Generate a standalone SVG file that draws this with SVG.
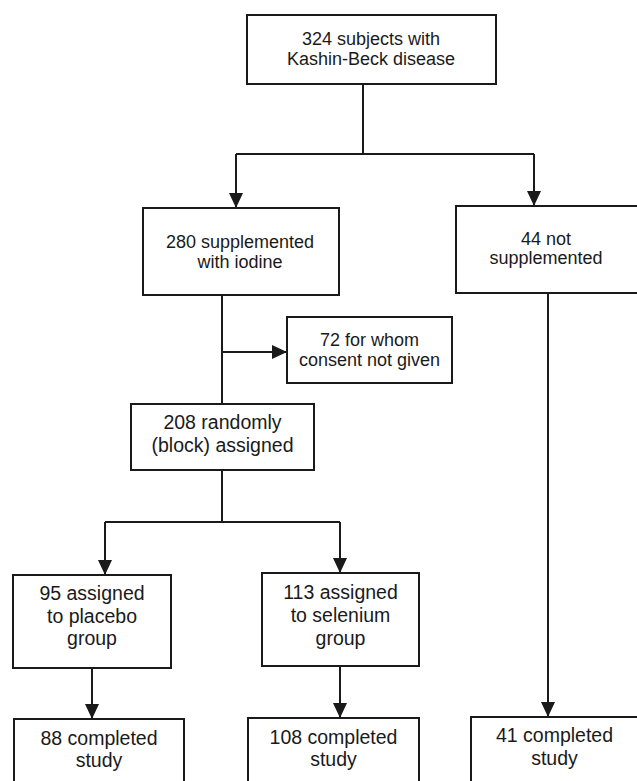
<svg xmlns="http://www.w3.org/2000/svg" width="637" height="781" viewBox="0 0 637 781">
<style>
.box{fill:#fff;stroke:#1a1a1a;stroke-width:2}
.ln{fill:none;stroke:#1a1a1a;stroke-width:2}
.t{font-family:"Liberation Sans",Arial,sans-serif;fill:#1a1a1a;text-anchor:middle}
.s{font-size:18px}
.b{font-size:19.5px}
</style>
<defs>
<marker id="ah" markerUnits="userSpaceOnUse" markerWidth="15" markerHeight="14" refX="15" refY="7" orient="auto">
<path d="M0,0 L15,7 L0,14 Z" fill="#1a1a1a"/>
</marker>
</defs>
<rect width="637" height="781" fill="#fff"/>
<g id="connectors">
<path class="ln" d="M363,84 V154"/>
<path class="ln" d="M236,154 H534"/>
<path class="ln" d="M236,154 V208" marker-end="url(#ah)"/>
<path class="ln" d="M534,154 V206" marker-end="url(#ah)"/>
<path class="ln" d="M222,295 V404"/>
<path class="ln" d="M222,352 H287" marker-end="url(#ah)"/>
<path class="ln" d="M222,470 V522"/>
<path class="ln" d="M105,522 H340"/>
<path class="ln" d="M105,522 V575" marker-end="url(#ah)"/>
<path class="ln" d="M340,522 V573" marker-end="url(#ah)"/>
<path class="ln" d="M92,668 V719" marker-end="url(#ah)"/>
<path class="ln" d="M340,666 V718" marker-end="url(#ah)"/>
<path class="ln" d="M548,293 V717" marker-end="url(#ah)"/>
</g>
<g id="n324">
<rect class="box" x="247" y="15" width="249" height="69"/>
<text class="t s" x="371" y="45">324 subjects with</text>
<text class="t s" x="371" y="65">Kashin-Beck disease</text>
</g>
<g id="n280">
<rect class="box" x="143" y="208" width="196" height="87"/>
<text class="t s" x="240" y="248">280 supplemented</text>
<text class="t s" x="240" y="268">with iodine</text>
</g>
<g id="n44">
<rect class="box" x="456" y="206" width="190" height="87"/>
<text class="t s" x="546" y="245">44 not</text>
<text class="t s" x="546" y="264">supplemented</text>
</g>
<g id="n72">
<rect class="box" x="287" y="317" width="165" height="66"/>
<text class="t s" x="369.5" y="346">72 for whom</text>
<text class="t s" x="369.5" y="366">consent not given</text>
</g>
<g id="n208">
<rect class="box" x="131" y="404" width="183" height="66"/>
<text class="t b" x="222.5" y="429">208 randomly</text>
<text class="t b" x="222.5" y="452">(block) assigned</text>
</g>
<g id="n95">
<rect class="box" x="13" y="575" width="158" height="93"/>
<text class="t b" x="92" y="600">95 assigned</text>
<text class="t b" x="92" y="623">to placebo</text>
<text class="t b" x="92" y="645">group</text>
</g>
<g id="n113">
<rect class="box" x="262" y="573" width="157" height="93"/>
<text class="t b" x="340.5" y="599">113 assigned</text>
<text class="t b" x="340.5" y="622">to selenium</text>
<text class="t b" x="340.5" y="645">group</text>
</g>
<g id="n88">
<rect class="box" x="14" y="719" width="170" height="80"/>
<text class="t b" x="99" y="745">88 completed</text>
<text class="t b" x="99" y="767">study</text>
</g>
<g id="n108">
<rect class="box" x="248" y="718" width="171" height="80"/>
<text class="t b" x="333.5" y="744">108 completed</text>
<text class="t b" x="333.5" y="766">study</text>
</g>
<g id="n41">
<rect class="box" x="471" y="717" width="180" height="80"/>
<text class="t b" x="554.5" y="742">41 completed</text>
<text class="t b" x="554.5" y="765">study</text>
</g>
</svg>
